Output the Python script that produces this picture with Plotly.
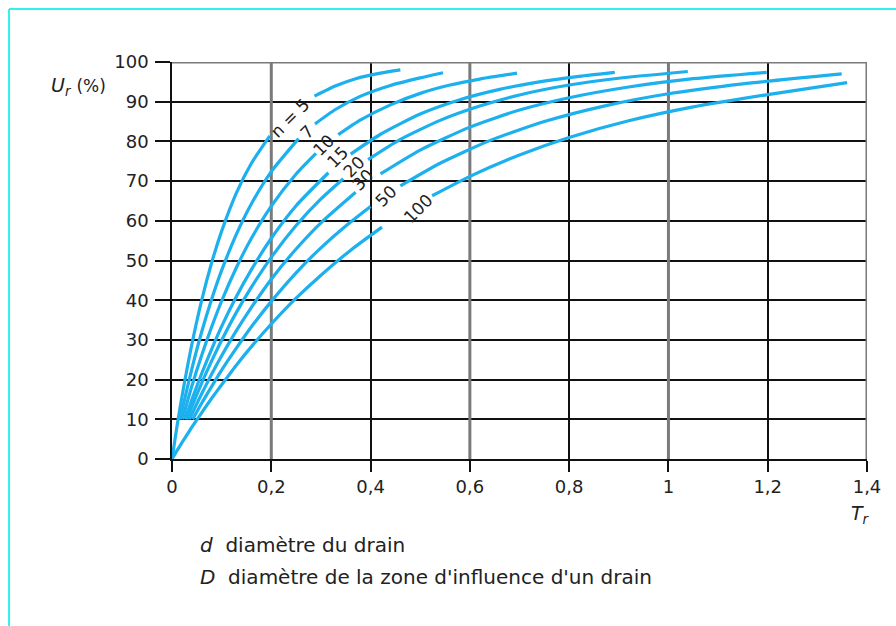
import plotly.graph_objects as go

# ---------------- data ----------------
n_values = [5, 7, 10, 15, 20, 30, 50, 100]

T_n5 = [0, 0.01, 0.02, 0.04, 0.06, 0.08, 0.10, 0.13, 0.16, 0.197, None, 0.287, 0.33, 0.37, 0.42, 0.46]
U_n5 = [0, 8.2, 15.7, 28.9, 40.1, 49.5, 57.4, 67.1, 74.5, 81.4, None, 91.4, 94.0, 95.8, 97.2, 98.0]

T_n7 = [0.0164, 0.02, 0.04, 0.06, 0.08, 0.10, 0.13, 0.16, 0.20, 0.255, None, 0.288, 0.33, 0.38, 0.44, 0.50, 0.546]
U_n7 = [10.0, 12.1, 22.7, 32.1, 40.3, 47.5, 56.7, 64.3, 72.4, 80.7, None, 84.4, 88.1, 91.4, 94.1, 96.0, 97.3]

T_n10 = [0.0208, 0.04, 0.06, 0.08, 0.10, 0.13, 0.16, 0.20, 0.25, 0.29, None, 0.335, 0.38, 0.44, 0.50, 0.56, 0.62, 0.695]
U_n10 = [10.0, 18.4, 26.2, 33.3, 39.8, 48.3, 55.6, 63.7, 71.8, 77.0, None, 81.7, 85.4, 89.2, 92.1, 94.2, 95.7, 97.2]

T_n15 = [0.026, 0.04, 0.06, 0.08, 0.10, 0.13, 0.16, 0.20, 0.25, 0.315, None, 0.36, 0.42, 0.50, 0.58, 0.66, 0.74, 0.82, 0.892]
U_n15 = [10.0, 15.0, 21.6, 27.7, 33.4, 41.0, 47.7, 55.6, 63.8, 72.1, None, 76.8, 81.8, 86.9, 90.5, 93.1, 95.0, 96.4, 97.4]

T_n20 = [0.0297, 0.04, 0.06, 0.08, 0.10, 0.13, 0.16, 0.20, 0.25, 0.30, 0.345, None, 0.395, 0.46, 0.54, 0.62, 0.70, 0.80, 0.90, 1.039]
U_n20 = [10.0, 13.2, 19.2, 24.7, 29.9, 37.0, 43.3, 50.8, 58.8, 65.5, 70.6, None, 75.4, 80.5, 85.3, 88.9, 91.7, 94.2, 95.9, 97.6]

T_n30 = [0.035, 0.06, 0.08, 0.10, 0.13, 0.16, 0.20, 0.25, 0.30, 0.37, None, 0.42, 0.50, 0.60, 0.70, 0.80, 0.92, 1.05, 1.198]
U_n30 = [10.0, 16.5, 21.4, 26.0, 32.4, 38.2, 45.3, 52.9, 59.5, 67.2, None, 71.8, 77.8, 83.6, 87.9, 91.0, 93.7, 95.8, 97.4]

T_n50 = [0.0417, 0.06, 0.08, 0.10, 0.13, 0.16, 0.20, 0.25, 0.30, 0.35, 0.40, None, 0.46, 0.54, 0.64, 0.75, 0.87, 1.00, 1.15, 1.349]
U_n50 = [10.0, 14.1, 18.3, 22.4, 28.0, 33.3, 39.7, 46.9, 53.2, 58.7, 63.6, None, 68.8, 74.5, 80.2, 85.0, 88.9, 92.0, 94.5, 97.0]

T_n100 = [0, 0.01, 0.02, 0.04, 0.06, 0.08, 0.10, 0.13, 0.16, 0.20, 0.25, 0.30, 0.36, 0.423, None, 0.524, 0.60, 0.70, 0.80, 0.92, 1.05, 1.20, 1.36]
U_n100 = [0, 2.1, 4.1, 8.0, 11.7, 15.3, 18.7, 23.7, 28.3, 34.0, 40.5, 46.3, 52.6, 58.4, None, 66.3, 71.2, 76.6, 81.0, 85.2, 88.7, 91.8, 94.8]

curve_labels = ["n = 5", "7", "10", "15", "20", "30", "50", "100"]
label_T = [0.238, 0.272, 0.306, 0.334, 0.366, 0.384, 0.431, 0.495]
label_U = [85.8, 82.3, 79.0, 76.0, 73.6, 70.3, 66.3, 63.0]

x_ticks = [0, 0.2, 0.4, 0.6, 0.8, 1.0, 1.2, 1.4]
x_tick_text = ["0", "0,2", "0,4", "0,6", "0,8", "1", "1,2", "1,4"]
y_ticks = [0, 10, 20, 30, 40, 50, 60, 70, 80, 90, 100]
thick_x = [0.2, 0.6, 1.0, 1.4]

footnotes = ["<i>d</i>  diamètre du drain",
             "<i>D</i>  diamètre de la zone d'influence d'un drain"]

# ---------------- figure ----------------
series = [(T_n5, U_n5), (T_n7, U_n7), (T_n10, U_n10), (T_n15, U_n15),
          (T_n20, U_n20), (T_n30, U_n30), (T_n50, U_n50), (T_n100, U_n100)]

CURVE = "#1cb0ee"
FONT = "DejaVu Sans, Verdana, sans-serif"
TXT = "#222222"

fig = go.Figure()
for n, (t, u) in zip(n_values, series):
    fig.add_trace(go.Scatter(
        x=t, y=u, mode="lines", name=f"n = {n}",
        line=dict(color=CURVE, width=3.2, shape="spline", smoothing=0.6),
        connectgaps=False, showlegend=False, hoverinfo="skip", cliponaxis=False))

shapes = []
for xv in thick_x:
    shapes.append(dict(type="line", xref="x", yref="y", x0=xv, x1=xv, y0=0, y1=100,
                       line=dict(color="#7a7a7a", width=3), layer="between"))
shapes.append(dict(type="line", xref="x", yref="y", x0=0, x1=1.4, y0=100, y1=100,
                   line=dict(color="#7a7a7a", width=3), layer="between"))
# cyan frame of the page (top and left edges)
shapes.append(dict(type="line", xref="paper", yref="paper", x0=-0.2345, x1=1.05, y0=1.1335, y1=1.1335,
                   line=dict(color="#2ef2f2", width=2)))
shapes.append(dict(type="line", xref="paper", yref="paper", x0=-0.2345, x1=-0.2345, y0=1.1335, y1=-0.43,
                   line=dict(color="#2ef2f2", width=2)))

def px_to_paper(px, py):
    return (px - 172) / 695.0, (459 - py) / 397.0

annotations = []
for txt, tx, uy in zip(curve_labels, label_T, label_U):
    annotations.append(dict(x=tx, y=uy, xref="x", yref="y", text=txt, showarrow=False,
                            xanchor="center", yanchor="middle",
                            textangle=-45, font=dict(family=FONT, size=17, color=TXT)))
ux, uy = px_to_paper(79, 87)
annotations.append(dict(x=ux, y=uy, xref="paper", yref="paper", xanchor="center", yanchor="middle",
                        text="<i>U</i><sub><i>r</i></sub> <span style='font-size:17px'>(%)</span>",
                        showarrow=False, font=dict(family=FONT, size=19, color=TXT)))
tx_, ty_ = px_to_paper(860, 514)
annotations.append(dict(x=tx_, y=ty_, xref="paper", yref="paper", xanchor="center", yanchor="middle",
                        text="<i>T</i><sub><i>r</i></sub>", showarrow=False,
                        font=dict(family=FONT, size=19, color=TXT)))
f1x, f1y = px_to_paper(198, 545)
annotations.append(dict(x=f1x, y=f1y, xref="paper", yref="paper", xanchor="left", yanchor="middle",
                        text=footnotes[0], showarrow=False,
                        font=dict(family=FONT, size=20, color=TXT)))
f2x, f2y = px_to_paper(198, 577)
annotations.append(dict(x=f2x, y=f2y, xref="paper", yref="paper", xanchor="left", yanchor="middle",
                        text=footnotes[1], showarrow=False,
                        font=dict(family=FONT, size=20, color=TXT)))

fig.update_layout(
    width=896, height=626,
    margin=dict(l=172, r=29, t=62, b=167),
    paper_bgcolor="white", plot_bgcolor="white",
    shapes=shapes, annotations=annotations,
    font=dict(family=FONT, size=17, color=TXT),
    xaxis=dict(range=[0, 1.4], tickvals=x_ticks, ticktext=x_tick_text,
               showgrid=True, gridcolor="#111111", gridwidth=1.6,
               zeroline=False, showline=True, linecolor="#111111", linewidth=1.6,
               ticks="outside", ticklen=11, tickwidth=1.6, tickcolor="#111111",
               tickfont=dict(family=FONT, size=18, color=TXT), fixedrange=True),
    yaxis=dict(range=[0, 100], tickvals=y_ticks,
               showgrid=True, gridcolor="#111111", gridwidth=1.6,
               zeroline=False, showline=True, linecolor="#111111", linewidth=1.6,
               ticks="outside", ticklen=15, tickwidth=1.6, tickcolor="#111111",
               ticklabelstandoff=3,
               tickfont=dict(family=FONT, size=18, color=TXT), fixedrange=True),
)

fig.write_html("out.html")
